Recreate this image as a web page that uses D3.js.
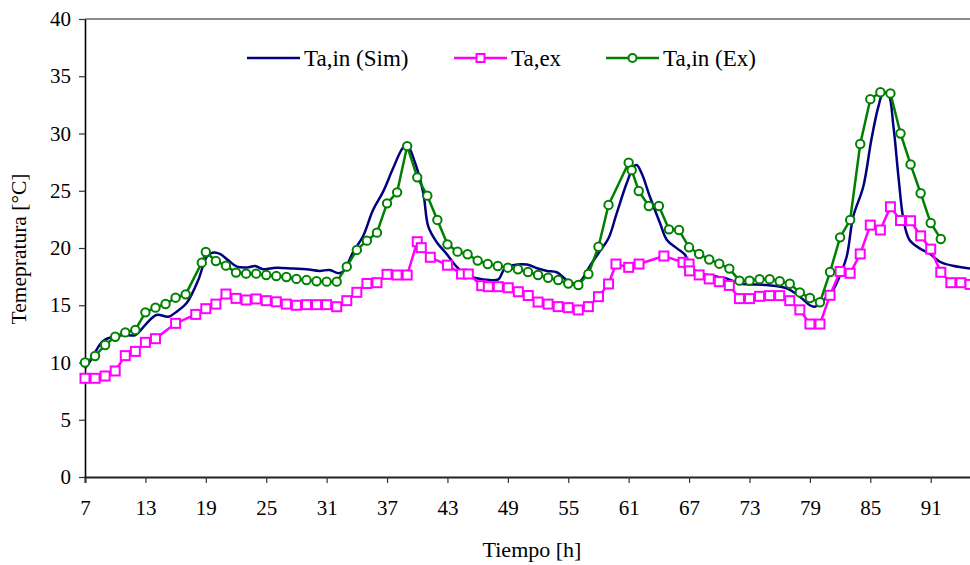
<!DOCTYPE html>
<html>
<head>
<meta charset="utf-8">
<script src="https://cdn.jsdelivr.net/npm/d3@7"></script>
<style>
  body { margin: 0; background: #fff; }
  svg { display: block; font-family: "Liberation Serif", "Times New Roman", serif; }
</style>
</head>
<body>
<div class="container"></div>
<script>
// Ta,in (Sim) - simulated indoor air, smooth line
const simHours = [7, 7.5, 8.5, 9, 10, 11, 12, 13.1, 14.1, 15.3, 16.1, 17.1, 18.25, 19.1, 19.75, 20.4, 21.2, 22.1, 23.1, 23.9, 24.7, 26, 27.7, 29, 30.3, 31.3, 32.2, 32.7, 33.65, 34.6, 35.6, 36.6, 37.6, 38.6, 39, 39.8, 40.6, 41.1, 41.9, 42.9, 43.9, 44.9, 45.9, 47.2, 48.05, 48.7, 49.5, 50.9, 51.9, 52.9, 53.85, 54.85, 55.7, 56.3, 57.2, 58.2, 59, 59.8, 60.8, 61.5, 61.8, 62.3, 63.1, 64.1, 64.8, 65.8, 66.6, 67.1, 68.1, 69.4, 70.7, 72.06, 74.7, 76.7, 78, 79, 79.5, 80, 80.7, 81.3, 81.8, 82.65, 83.3, 84.3, 85.1, 85.8, 86.3, 86.8, 87.3, 87.8, 88.3, 88.9, 89.9, 90.9, 91.9, 93.2, 95]
const simTemp = [9.5, 10.1, 11.6, 12.0, 12.3, 12.4, 12.4, 13.4, 14.15, 14.0, 14.44, 15.2, 17.2, 19.24, 19.6, 19.48, 18.95, 18.37, 18.3, 18.43, 18.14, 18.28, 18.2, 18.14, 18.0, 18.08, 17.79, 18.0, 19.68, 21.0, 23.3, 24.9, 26.96, 28.8, 29.0, 27.4, 24.8, 21.86, 20.55, 19.5, 18.37, 17.64, 17.35, 17.2, 17.26, 18.23, 18.5, 18.55, 18.23, 18.0, 17.88, 17.2, 16.9, 17.2, 18.5, 19.8, 20.85, 23.0, 25.65, 27.1, 27.25, 26.5, 24.5, 22.2, 20.7, 19.97, 19.4, 18.43, 17.8, 17.55, 17.35, 16.9, 16.77, 16.48, 15.75, 15.0, 14.87, 15.17, 15.75, 16.33, 17.2, 19.24, 22.73, 25.35, 29.43, 32.34, 33.6, 33.4, 30.6, 26.2, 22.45, 20.7, 19.97, 19.5, 18.8, 18.45, 18.2]

// Ta,ex - outdoor air, squares
const exHours = [7, 8, 9, 10, 11, 12, 13, 14, 16, 18, 19, 20, 21, 22, 23, 24, 25, 26, 27, 28, 29, 30, 31, 32, 33, 34, 35, 36, 37, 38, 39, 40, 40.4, 41.3, 43, 44.4, 45.07, 46.4, 47.06, 48.05, 49.04, 50.04, 51.03, 52, 53, 54, 55, 56, 57, 58, 59, 59.74, 61, 62.03, 64.5, 66.4, 67, 67.05, 68, 69, 70, 71, 72, 73, 74, 75, 76, 77, 78, 79, 80, 81, 82, 83, 84, 85, 86, 87, 88, 89, 90, 91, 92, 93, 94, 94.9]
const exTemp = [8.62, 8.62, 8.82, 9.26, 10.6, 10.97, 11.76, 12.08, 13.42, 14.2, 14.7, 15.1, 15.98, 15.6, 15.46, 15.55, 15.4, 15.3, 15.1, 15.0, 15.05, 15.05, 15.05, 14.87, 15.4, 16.13, 16.9, 16.97, 17.7, 17.64, 17.64, 20.55, 20.03, 19.19, 18.5, 17.73, 17.73, 16.71, 16.62, 16.62, 16.53, 16.18, 15.85, 15.28, 15.1, 14.88, 14.79, 14.59, 14.88, 15.75, 16.86, 18.6, 18.31, 18.6, 19.3, 18.75, 18.6, 18.0, 17.65, 17.3, 17.06, 16.73, 15.58, 15.58, 15.78, 15.84, 15.84, 15.4, 14.6, 13.36, 13.36, 15.87, 17.95, 17.79, 19.48, 22.0, 21.57, 23.6, 22.4, 22.38, 21.06, 19.9, 17.88, 16.97, 16.97, 16.82]

// Ta,in (Ex) - measured indoor air, circles
const inHours = [7, 8, 9, 10, 11, 12, 13, 14, 15, 16, 17, 18.6, 19, 20, 21, 22, 23, 24, 25, 26, 27, 28, 29, 30, 31, 32, 33, 34, 35, 36, 37, 38, 39, 40, 41, 42, 43, 44, 45, 46, 47, 48, 49, 50, 51, 52, 53, 54, 55, 56, 57, 58, 59, 61, 61.3, 62, 63, 64, 65, 66, 67, 68, 69, 70, 71, 72, 73, 74, 75, 76, 77, 78, 79, 80, 81, 82, 83, 84, 85, 86, 87, 88, 89, 90, 91, 92]
const inTemp = [10.0, 10.57, 11.53, 12.25, 12.63, 12.84, 14.38, 14.79, 15.11, 15.66, 15.95, 18.72, 19.65, 18.86, 18.46, 17.85, 17.76, 17.76, 17.64, 17.55, 17.47, 17.3, 17.2, 17.1, 17.06, 17.06, 18.37, 19.83, 20.64, 21.34, 23.9, 24.86, 28.9, 26.17, 24.57, 22.45, 20.32, 19.68, 19.45, 18.9, 18.6, 18.43, 18.28, 18.14, 17.9, 17.64, 17.4, 17.2, 16.9, 16.77, 17.73, 20.11, 23.76, 27.45, 26.8, 24.98, 23.67, 23.67, 21.63, 21.57, 20.06, 19.48, 19.0, 18.63, 18.2, 17.15, 17.15, 17.28, 17.28, 17.1, 16.88, 16.12, 15.63, 15.26, 17.9, 20.93, 22.45, 29.08, 33.0, 33.6, 33.5, 30.0, 27.3, 24.78, 22.18, 20.79]

const xTicks = [7, 13, 19, 25, 31, 37, 43, 49, 55, 61, 67, 73, 79, 85, 91]
const yTicks = [0, 5, 10, 15, 20, 25, 30, 35, 40]

const seriesNames = ['Ta,in (Sim)', 'Ta,ex', 'Ta,in (Ex)']
const seriesColors = ['#000080', '#ff00ff', '#008000']

let width = 970
let height = 565
let plotLeft = 85, plotTop = 19, plotBottom = 477
let serif = 'Liberation Serif, Times New Roman, serif'

let x = d3.scaleLinear().domain([7, 96]).range([plotLeft, plotLeft + 89 * 10.068])
let y = d3.scaleLinear().domain([0, 40]).range([plotBottom, plotTop])

let svg = d3.select('.container')
    .append('svg')
    .attr('width', width)
    .attr('height', height)
    .attr('font-family', serif)

// plot frame (top edge is grey in the original)
svg.append('line')
    .attr('x1', plotLeft).attr('x2', width)
    .attr('y1', plotTop).attr('y2', plotTop)
    .attr('stroke', '#8c8c8c')
    .attr('stroke-width', 2)

let xAxis = svg.append('g')
    .attr('transform', `translate(0, ${plotBottom})`)
    .call(d3.axisBottom(x).tickValues(xTicks).tickSize(6).tickPadding(17).tickFormat(d3.format('d')))
xAxis.select('.domain').attr('stroke', '#222').attr('stroke-width', 2)
xAxis.selectAll('.tick line').attr('stroke', '#333').attr('stroke-width', 1.2)
xAxis.selectAll('text').attr('font-size', 21).attr('fill', '#000').attr('font-family', serif)

let yAxis = svg.append('g')
    .attr('transform', `translate(${plotLeft}, 0)`)
    .call(d3.axisLeft(y).tickValues(yTicks).tickSize(6).tickPadding(8).tickSizeOuter(0))
yAxis.select('.domain').attr('stroke', '#000').attr('stroke-width', 1.6)
yAxis.selectAll('.tick line').attr('stroke', '#333').attr('stroke-width', 1.2)
yAxis.selectAll('text').attr('font-size', 21).attr('fill', '#000').attr('font-family', serif)

svg.append('text')
    .attr('x', 532).attr('y', 557)
    .attr('text-anchor', 'middle')
    .attr('font-size', 22)
    .text('Tiempo [h]')

svg.append('text')
    .attr('transform', 'translate(26, 249) rotate(-90)')
    .attr('text-anchor', 'middle')
    .attr('font-size', 21.5)
    .text('Temepratura [°C]')

let plot = svg.append('g')

function drawLine(hours, temps, color, curve) {
    let pts = hours.map((h, i) => [h, temps[i]])
    plot.append('path')
        .datum(pts)
        .attr('fill', 'none')
        .attr('stroke', color)
        .attr('stroke-width', 2.5)
        .attr('stroke-linejoin', 'round')
        .attr('d', d3.line().x(d => x(d[0])).y(d => y(d[1])).curve(curve))
    return pts
}

function squares(g, pts, color) {
    g.selectAll(null)
        .data(pts)
        .join('rect')
        .attr('x', d => x(d[0]) - 4.5)
        .attr('y', d => y(d[1]) - 4.5)
        .attr('width', 9).attr('height', 9)
        .attr('fill', '#fff')
        .attr('stroke', color)
        .attr('stroke-width', 2)
}

function circles(g, pts, color) {
    g.selectAll(null)
        .data(pts)
        .join('circle')
        .attr('cx', d => x(d[0]))
        .attr('cy', d => y(d[1]))
        .attr('r', 4.2)
        .attr('fill', '#fff')
        .attr('stroke', color)
        .attr('stroke-width', 2)
}

drawLine(simHours, simTemp, seriesColors[0], d3.curveCatmullRom.alpha(0.5))
let exPts = drawLine(exHours, exTemp, seriesColors[1], d3.curveLinear)
squares(plot, exPts, seriesColors[1])
let inPts = drawLine(inHours, inTemp, seriesColors[2], d3.curveLinear)
circles(plot, inPts, seriesColors[2])

// legend
let legendX = [247, 454, 606]
let legend = svg.append('g')
seriesNames.forEach((name, i) => {
    let lx = legendX[i], ly = 58
    legend.append('line')
        .attr('x1', lx).attr('x2', lx + 53)
        .attr('y1', ly).attr('y2', ly)
        .attr('stroke', seriesColors[i])
        .attr('stroke-width', 2.5)
    if (i == 1) {
        legend.append('rect')
            .attr('x', lx + 26.5 - 4).attr('y', ly - 4)
            .attr('width', 8).attr('height', 8)
            .attr('fill', '#fff').attr('stroke', seriesColors[i]).attr('stroke-width', 2)
    }
    if (i == 2) {
        legend.append('circle')
            .attr('cx', lx + 26.5).attr('cy', ly).attr('r', 4)
            .attr('fill', '#fff').attr('stroke', seriesColors[i]).attr('stroke-width', 2)
    }
    legend.append('text')
        .attr('x', lx + 57).attr('y', ly + 8)
        .attr('font-size', 23)
        .text(name)
})
</script>
</body>
</html>
